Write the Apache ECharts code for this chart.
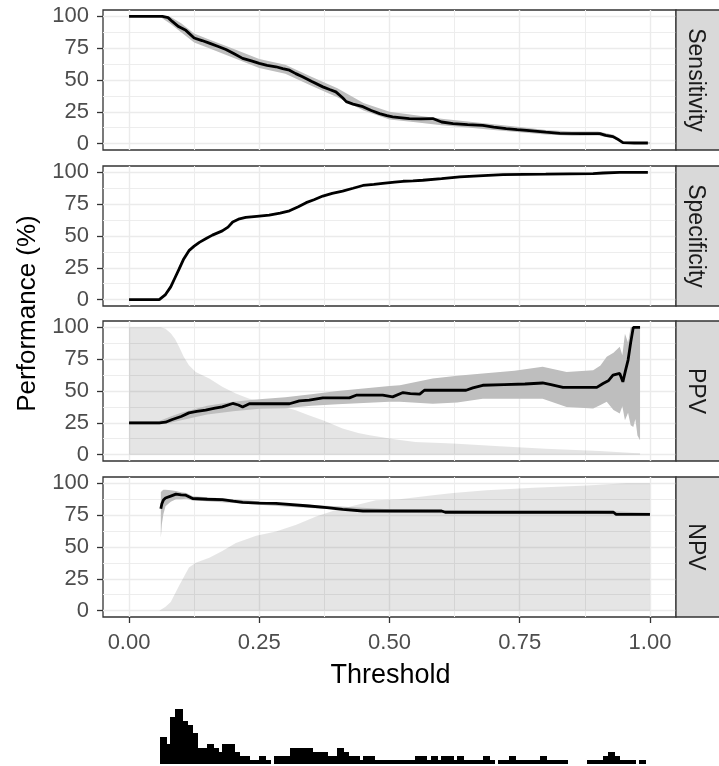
<!DOCTYPE html>
<html>
<head>
<meta charset="utf-8">
<script src="https://cdn.jsdelivr.net/npm/echarts@6/dist/echarts.min.js"></script>
<style>
  html, body { margin: 0; padding: 0; background: #fff; }
  #main { width: 719px; height: 766px; }
</style>
</head>
<body>
<div id="main"></div>
<script>
// ---- data ----
var panelNames = ['Sensitivity', 'Specificity', 'PPV', 'NPV'];
var xMajor = [0, 0.25, 0.5, 0.75, 1];
var xMinor = [0.125, 0.375, 0.625, 0.875];
var yMajor = [0, 25, 50, 75, 100];
var yMinor = [12.5, 37.5, 62.5, 87.5];

// sensitivity
var sensX = [0, 0.064, 0.075, 0.083, 0.095, 0.109, 0.125, 0.14, 0.154, 0.17, 0.186, 0.2, 0.218, 0.235, 0.25, 0.265, 0.282, 0.295, 0.308, 0.32, 0.333, 0.35, 0.372, 0.385, 0.397, 0.41, 0.417, 0.43, 0.449, 0.465, 0.481, 0.495, 0.506, 0.519, 0.538, 0.56, 0.583, 0.6, 0.622, 0.65, 0.679, 0.7, 0.724, 0.745, 0.763, 0.8, 0.827, 0.87, 0.904, 0.915, 0.929, 0.94, 0.948, 0.97, 0.996];
var sensY = [100, 100, 99, 96, 92, 89, 83, 81, 79, 76.5, 74, 71, 67, 65, 63, 61.5, 60.4, 59, 57.7, 55, 52.5, 49, 44.6, 42.5, 40.7, 36, 33, 31, 29, 26, 23.6, 22, 21, 20.5, 19.7, 19.5, 19.7, 17, 15.7, 15, 14.4, 13, 11.8, 11, 10.5, 9, 8, 7.9, 7.9, 6.5, 5.5, 3, 0.8, 0.5, 0.5];
var sensBandX = [0, 0.06, 0.08, 0.1, 0.125, 0.15, 0.2, 0.25, 0.3, 0.35, 0.4, 0.45, 0.5, 0.55, 0.6, 0.65, 0.7, 0.75, 0.8, 0.85, 0.9, 0.93, 0.95, 1.0];
var sensLo = [100, 99.5, 94, 87.5, 79.5, 75.5, 67.5, 59.5, 55, 45.5, 36.5, 26, 19, 16.8, 14.5, 12.7, 10.8, 9, 7.2, 6.2, 6.3, 4, 0, 0];
var sensHi = [100, 100, 99.5, 94.5, 86.5, 82.5, 74.5, 66.5, 62, 52.5, 43.5, 32, 25, 22.4, 19.5, 17.3, 15.2, 13, 10.8, 9.6, 9.5, 7, 1.6, 1];

// specificity
var specX = [0, 0.058, 0.07, 0.08, 0.088, 0.096, 0.105, 0.115, 0.125, 0.135, 0.148, 0.16, 0.179, 0.19, 0.199, 0.212, 0.224, 0.245, 0.269, 0.29, 0.308, 0.325, 0.34, 0.355, 0.372, 0.39, 0.41, 0.43, 0.449, 0.47, 0.487, 0.51, 0.526, 0.545, 0.564, 0.6, 0.635, 0.68, 0.718, 0.8, 0.891, 0.91, 0.942, 0.996];
var specY = [0, 0, 4, 10, 17, 24, 32, 38.5, 42, 45, 48, 50.7, 54, 57, 61, 63.5, 64.6, 65.5, 66.4, 68, 69.8, 73, 76.2, 78.5, 81.4, 83.5, 85.3, 87.5, 89.7, 90.5, 91.3, 92.3, 93, 93.3, 93.8, 95, 96.5, 97.5, 98.3, 98.6, 99, 99.5, 100, 100];

// PPV
var ppvX = [0, 0.058, 0.07, 0.083, 0.1, 0.115, 0.13, 0.147, 0.165, 0.179, 0.199, 0.21, 0.218, 0.231, 0.26, 0.29, 0.308, 0.327, 0.346, 0.372, 0.4, 0.423, 0.436, 0.46, 0.487, 0.506, 0.526, 0.54, 0.558, 0.567, 0.6, 0.647, 0.66, 0.679, 0.72, 0.76, 0.794, 0.81, 0.833, 0.86, 0.898, 0.91, 0.92, 0.929, 0.942, 0.948, 0.953, 0.958, 0.963, 0.968, 0.981];
var ppvY = [25, 25, 25.5, 27.6, 30, 32.8, 34, 34.9, 36.5, 37.5, 40.2, 39, 37.5, 40, 40, 40, 40, 42.3, 42.8, 44.6, 44.6, 44.6, 46.7, 46.7, 46.7, 45.4, 48.8, 48, 47.5, 50.6, 50.6, 50.6, 52.5, 54.5, 55, 55.5, 56.3, 55, 52.8, 52.8, 52.8, 55.9, 58, 62.4, 63.8, 57.2, 66, 74.3, 88, 100, 100];
var ppvBandX = [0, 0.058, 0.08, 0.1, 0.15, 0.2, 0.25, 0.3, 0.35, 0.4, 0.45, 0.5, 0.52, 0.583, 0.63, 0.679, 0.74, 0.794, 0.84, 0.891, 0.905, 0.917, 0.93, 0.942, 0.947, 0.952, 0.958, 0.963, 0.968, 0.972, 0.976, 0.981];
var ppvLo = [23.5, 23.5, 25, 27, 31.5, 34, 36, 36.5, 38.5, 39.5, 40.5, 41.5, 41.5, 40, 41, 44, 44, 44, 37.5, 36.2, 39, 41.5, 35, 32.3, 38, 27, 33, 23, 21.8, 28, 15, 11.3];
var ppvHi = [26.5, 26.5, 30, 33, 38.5, 41.5, 43.5, 45, 47.5, 50, 52, 54, 54.5, 59.8, 62, 63.8, 66, 69, 65, 66.4, 70, 77, 80, 84.8, 78, 95, 88, 100, 100, 100, 100, 100];
var ppvAreaX = [0, 0.061, 0.07, 0.08, 0.088, 0.096, 0.105, 0.115, 0.128, 0.14, 0.154, 0.179, 0.205, 0.231, 0.256, 0.29, 0.32, 0.345, 0.372, 0.41, 0.44, 0.462, 0.513, 0.55, 0.622, 0.712, 0.8, 0.904, 0.968, 0.981];
var ppvAreaY = [100, 100, 99, 95.3, 91, 84.8, 77, 70.3, 65, 62.5, 59.8, 53.3, 48, 44, 42.3, 38.5, 34.9, 31, 27, 20.5, 17, 15.2, 11.8, 10, 8.7, 6.5, 4.7, 2.9, 1.3, 1];

// NPV
var npvX = [0.061, 0.063, 0.066, 0.07, 0.08, 0.09, 0.1, 0.109, 0.122, 0.15, 0.179, 0.2, 0.218, 0.25, 0.282, 0.346, 0.38, 0.41, 0.449, 0.538, 0.6, 0.607, 0.93, 0.935, 1.0];
var npvY = [80, 84, 87, 88.5, 90, 91.5, 91, 90.7, 88.1, 87.5, 87.3, 86, 85, 84.5, 84.2, 82.2, 81, 79.6, 78.3, 78.3, 78.3, 77.3, 77.3, 75.7, 75.7];
var npvBandX = [0.061, 0.063, 0.066, 0.07, 0.08, 0.09, 0.1, 0.11, 0.122, 0.15, 0.2, 0.3, 0.5, 0.7, 0.9, 1.0];
var npvLo = [57, 68, 76, 82, 85.5, 87.5, 87.5, 88, 86.5, 86, 84.5, 81.8, 77, 76.2, 76.2, 74.5];
var npvHi = [93, 94, 95, 95, 94.5, 94, 93, 92.5, 89.8, 89, 87.5, 84.2, 79.6, 78.4, 78.4, 77];
var npvAreaX = [0.058, 0.07, 0.08, 0.096, 0.115, 0.128, 0.154, 0.179, 0.205, 0.244, 0.282, 0.321, 0.359, 0.397, 0.474, 0.519, 0.583, 0.622, 0.686, 0.776, 0.878, 0.955, 1.0];
var npvAreaY = [0, 3, 6.7, 19.6, 33.9, 37.7, 41.6, 46.8, 53.2, 58.9, 62.2, 67.4, 73.9, 79, 86.8, 87.5, 90.7, 92.5, 94.6, 96.6, 98.4, 100, 100];

// histogram of predicted probabilities (bin start, count), bin width 0.01
var histWidth = 0.01;
var histStart = [0.06, 0.07, 0.08, 0.09, 0.10, 0.11, 0.12, 0.13, 0.14, 0.15, 0.16, 0.17, 0.18, 0.19, 0.20, 0.21, 0.22, 0.23, 0.24, 0.25, 0.26, 0.27, 0.28, 0.29, 0.30, 0.31, 0.32, 0.33, 0.34, 0.35, 0.36, 0.37, 0.38, 0.39, 0.40, 0.41, 0.42, 0.43, 0.44, 0.45, 0.46, 0.47, 0.48, 0.49, 0.50, 0.51, 0.52, 0.53, 0.54, 0.55, 0.56, 0.57, 0.58, 0.59, 0.60, 0.61, 0.62, 0.63, 0.64, 0.65, 0.66, 0.67, 0.68, 0.69, 0.70, 0.71, 0.72, 0.73, 0.74, 0.75, 0.76, 0.77, 0.78, 0.79, 0.80, 0.81, 0.82, 0.83, 0.84, 0.85, 0.86, 0.87, 0.88, 0.89, 0.90, 0.91, 0.92, 0.93, 0.94, 0.95, 0.96, 0.97, 0.98, 0.99];
var histCount = [7, 5, 12, 14, 11, 10, 8, 4, 4, 5, 4, 3, 5, 5, 3, 2, 2, 1, 1, 2, 1, 0, 2, 2, 2, 4, 4, 4, 4, 3, 3, 3, 2, 2, 4, 3, 2, 2, 1, 2, 2, 1, 1, 1, 1, 1, 1, 1, 1, 2, 2, 1, 2, 1, 2, 2, 1, 2, 1, 1, 1, 1, 2, 1, 0, 1, 1, 2, 1, 1, 1, 1, 1, 2, 1, 1, 1, 1, 0, 0, 0, 0, 1, 1, 1, 2, 3, 2, 1, 1, 1, 0, 1, 0];

// ---- layout ----
var FONT = '"Liberation Sans", Arial, sans-serif';
var panelTop = [10, 166, 321, 477];
var panelH = 140;
var plotLeft = 103, plotW = 573;
var stripW = 46;

function zip(xs, ys) {
  var out = [];
  for (var i = 0; i < xs.length; i++) out.push([xs[i], ys[i]]);
  return out;
}

// ribbon between lo and hi (or down to 0 when lo is null)
function ribbon(g, xs, lo, hi, color, z) {
  return {
    type: 'custom', xAxisIndex: 2 * g, yAxisIndex: 2 * g, z: z, silent: true,
    data: [[xs[0], hi[0]]],
    renderItem: function (params, api) {
      var pts = [];
      for (var i = 0; i < xs.length; i++) pts.push(api.coord([xs[i], hi[i]]));
      for (var j = xs.length - 1; j >= 0; j--) pts.push(api.coord([xs[j], lo ? lo[j] : 0]));
      return { type: 'polygon', shape: { points: pts }, style: { fill: color } };
    }
  };
}

function curve(g, xs, ys) {
  return {
    type: 'line', xAxisIndex: 2 * g, yAxisIndex: 2 * g, z: 4, silent: true,
    data: zip(xs, ys), symbol: 'none', showSymbol: false,
    lineStyle: { color: '#000', width: 2.8 }
  };
}

var grid = [], xAxis = [], yAxis = [], series = [], graphic = [];

for (var g = 0; g < 4; g++) {
  var bottom = g === 3;
  grid.push({
    left: plotLeft, top: panelTop[g], width: plotW, height: panelH,
    show: true, borderColor: '#333', borderWidth: 1.3, backgroundColor: '#fff',
    outerBoundsMode: 'none', containLabel: false
  });
  // major x
  xAxis.push({
    type: 'value', gridIndex: g, min: -0.05, max: 1.05,
    axisLine: { show: false, onZero: false },
    axisTick: { show: bottom, customValues: xMajor, length: 6, lineStyle: { color: '#333', width: 1.3 } },
    axisLabel: {
      show: bottom, customValues: xMajor, margin: 15, fontSize: 22, color: '#4d4d4d', fontFamily: FONT,
      formatter: function (v) { return v.toFixed(2); }
    },
    splitLine: { show: true, lineStyle: { color: '#ebebeb', width: 1.4 } }
  });
  // minor x gridlines
  xAxis.push({
    type: 'value', gridIndex: g, min: -0.05, max: 1.05, position: 'bottom',
    axisLine: { show: false, onZero: false },
    axisTick: { show: false, customValues: xMinor },
    axisLabel: { show: false, customValues: xMinor },
    splitLine: { show: true, lineStyle: { color: '#ededed', width: 1 } }
  });
  // major y
  yAxis.push({
    type: 'value', gridIndex: g, min: -5, max: 105,
    axisLine: { show: false, onZero: false },
    axisTick: { show: true, customValues: yMajor, length: 6, lineStyle: { color: '#333', width: 1.3 } },
    axisLabel: { show: true, customValues: yMajor, margin: 14, fontSize: 22, color: '#4d4d4d', fontFamily: FONT },
    splitLine: { show: true, lineStyle: { color: '#ebebeb', width: 1.4 } }
  });
  // minor y gridlines
  yAxis.push({
    type: 'value', gridIndex: g, min: -5, max: 105, position: 'left',
    axisLine: { show: false, onZero: false },
    axisTick: { show: false, customValues: yMinor },
    axisLabel: { show: false, customValues: yMinor },
    splitLine: { show: true, lineStyle: { color: '#ededed', width: 1 } }
  });

  // facet strip on the right
  graphic.push({
    type: 'rect', z: 10,
    shape: { x: plotLeft + plotW, y: panelTop[g], width: stripW, height: panelH },
    style: { fill: '#d9d9d9', stroke: '#333', lineWidth: 1.3 }
  });
  graphic.push({
    type: 'text', z: 11,
    x: plotLeft + plotW + 19, y: panelTop[g] + panelH / 2,
    rotation: -Math.PI / 2,
    style: {
      text: panelNames[g], fill: '#1a1a1a', font: '23px ' + FONT,
      textAlign: 'center', textVerticalAlign: 'middle'
    }
  });
}

// panel 1: sensitivity
series.push(ribbon(0, sensBandX, sensLo, sensHi, '#bebebe', 2));
series.push(curve(0, sensX, sensY));
// panel 2: specificity
series.push(curve(1, specX, specY));
// panel 3: PPV
series.push(ribbon(2, ppvAreaX, null, ppvAreaY, 'rgba(0,0,0,0.1)', 1));
series.push(ribbon(2, ppvBandX, ppvLo, ppvHi, '#bebebe', 2));
series.push(curve(2, ppvX, ppvY));
// panel 4: NPV
series.push(ribbon(3, npvAreaX, null, npvAreaY, 'rgba(0,0,0,0.1)', 1));
series.push(ribbon(3, npvBandX, npvLo, npvHi, '#bebebe', 2));
series.push(curve(3, npvX, npvY));

// histogram under the x axis
grid.push({ left: plotLeft, width: plotW, top: 709, height: 55, show: false, outerBoundsMode: 'none' });
xAxis.push({ type: 'value', gridIndex: 4, min: -0.05, max: 1.05, show: false });
yAxis.push({ type: 'value', gridIndex: 4, min: 0, max: 14, show: false });
series.push({
  type: 'custom', xAxisIndex: 8, yAxisIndex: 8, silent: true,
  data: zip(histStart, histCount),
  encode: { x: 0, y: 1 },
  renderItem: function (params, api) {
    if (!api.value(1)) return null;
    var p0 = api.coord([api.value(0), api.value(1)]);
    var p1 = api.coord([api.value(0) + histWidth, 0]);
    // overlap neighbours a little so no seams show between bars
    return {
      type: 'rect',
      shape: { x: Math.floor(p0[0]), y: Math.round(p0[1]), width: Math.ceil(p1[0]) - Math.floor(p0[0]) + 1, height: Math.round(p1[1]) - Math.round(p0[1]) },
      style: { fill: '#000' }
    };
  }
});

// axis titles
graphic.push({
  type: 'text', x: 28, y: panelTop[0] + (panelTop[3] + panelH - panelTop[0]) / 2,
  rotation: Math.PI / 2,
  style: { text: 'Performance (%)', fill: '#000', font: '26px ' + FONT, textAlign: 'center', textVerticalAlign: 'middle' }
});
graphic.push({
  type: 'text', x: plotLeft + plotW / 2 + 1, y: 676,
  style: { text: 'Threshold', fill: '#000', font: '27px ' + FONT, textAlign: 'center', textVerticalAlign: 'middle' }
});

var chart = echarts.init(document.getElementById('main'), null, { renderer: 'canvas' });
chart.setOption({
  animation: false,
  backgroundColor: '#fff',
  textStyle: { fontFamily: FONT },
  grid: grid,
  xAxis: xAxis,
  yAxis: yAxis,
  series: series,
  graphic: graphic
});
</script>
</body>
</html>
